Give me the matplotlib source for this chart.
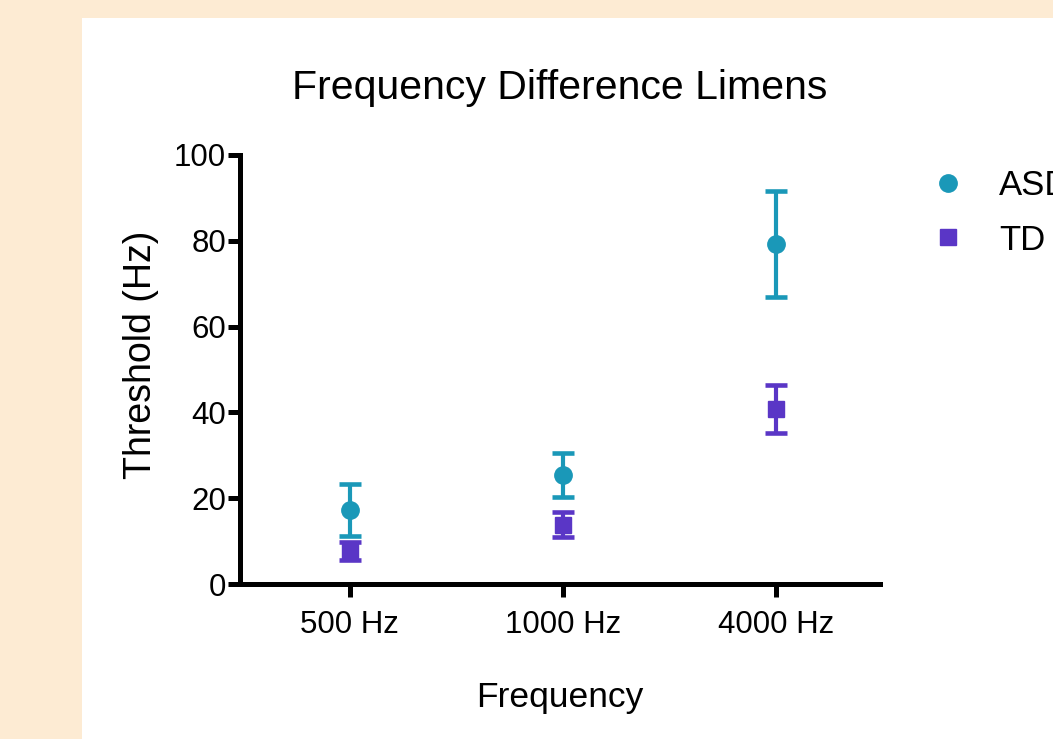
import numpy as np
import matplotlib
matplotlib.use('Agg')
import matplotlib.pyplot as plt
from matplotlib.patches import Rectangle

plt.rcParams['font.family'] = ['Liberation Sans', 'DejaVu Sans']

# data
freqs = ['500 Hz', '1000 Hz', '4000 Hz']
asd_mean = [17.2, 25.4, 79.3]
asd_err = [6.0, 5.1, 12.3]
td_mean = [7.7, 13.8, 40.8]
td_err = [2.2, 2.9, 5.5]

asd_col = '#1a98b8'
td_col = '#5a36c6'

fig = plt.figure(figsize=(10.53, 7.39), dpi=100)
fig.patch.set_facecolor('#fdebd3')
fig.patches.append(Rectangle((82 / 1053, 0), 1, 1 - 18 / 739, transform=fig.transFigure,
                             facecolor='white', edgecolor='none', zorder=-10))

ax = fig.add_axes([240 / 1053, 1 - 584 / 739, 640 / 1053, 429 / 739])
ax.set_facecolor('none')
x = np.arange(len(freqs))

ax.errorbar(x, asd_mean, yerr=asd_err, fmt='none', ecolor=asd_col, elinewidth=3,
            capsize=8, capthick=3.3, zorder=3)
ax.errorbar(x, td_mean, yerr=td_err, fmt='none', ecolor=td_col, elinewidth=3,
            capsize=8, capthick=3.3, zorder=3)
ax.plot(x, asd_mean, 'o', color=asd_col, ms=12.5, ls='none', label='ASD', zorder=4)
ax.plot(x, td_mean, 's', color=td_col, ms=11, ls='none', label='TD', zorder=4)

ax.set_xlim(-0.516, 2.49)
ax.set_ylim(0, 100)
ax.set_xticks(x)
ax.set_xticklabels(freqs)
ax.set_yticks([0, 20, 40, 60, 80, 100])

for side in ['top', 'right']:
    ax.spines[side].set_visible(False)
for side in ['left', 'bottom']:
    ax.spines[side].set_linewidth(3.6)
ax.tick_params(width=3.6, length=9, labelsize=22.5, pad=1)
ax.tick_params(axis='x', pad=10)

ax.set_xlabel('Frequency', fontsize=25.5, labelpad=29)
ax.set_ylabel('Threshold (Hz)', fontsize=27)
ax.yaxis.set_label_coords(-0.127, 0.534)
ax.set_title('Frequency Difference Limens', fontsize=29.5, pad=40)

ax.legend(loc='upper left', bbox_to_anchor=(920 / 1053, 1 - 169 / 739),
          bbox_transform=fig.transFigure, frameon=False, fontsize=25,
          handletextpad=0.68, labelspacing=0.62, borderaxespad=0, borderpad=0,
          handlelength=1.6)

fig.savefig('out.png', dpi=100)
